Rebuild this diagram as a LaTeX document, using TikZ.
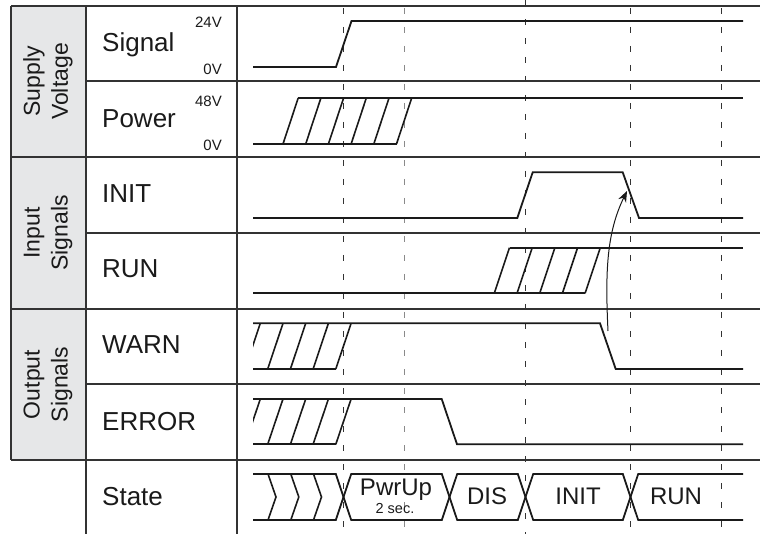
\documentclass[tikz,border=0pt]{standalone}
\usepackage{fontspec}
\setmainfont{Liberation Sans}
\usetikzlibrary{arrows.meta}
\definecolor{gridc}{HTML}{333333}
\definecolor{sigc}{HTML}{1A1A1A}
\definecolor{grayfill}{HTML}{E6E7E8}
\definecolor{dashgray}{HTML}{8A8A8A}
\begin{document}
\begin{tikzpicture}[x=1pt,y=-1pt,
  grid/.style={draw=gridc, line width=1.3pt},
  sig/.style={draw=sigc, line width=1.8pt, line join=miter},
  hatch/.style={draw=sigc, line width=1.6pt},
  vdash/.style={draw=gridc, line width=0.9pt, dash pattern=on 6pt off 13pt},
  vdashg/.style={draw=dashgray, line width=1.3pt, dash pattern=on 6pt off 13pt},
  lbl/.style={anchor=base west, font=\fontsize{26}{30}\selectfont, inner sep=0pt, text=sigc},
  grp/.style={rotate=90, align=center, font=\fontsize{23}{28}\selectfont, inner sep=0pt, text=sigc},
  volt/.style={anchor=base east, font=\fontsize{15}{17}\selectfont, inner sep=0pt, text=sigc},
  st/.style={anchor=base, font=\fontsize{24}{28}\selectfont, inner sep=0pt, text=sigc},
  stsmall/.style={anchor=base, font=\fontsize{14.5}{16}\selectfont, inner sep=0pt, text=sigc},
  arr/.style={draw=sigc, line width=1pt, -{Stealth[length=11pt,width=8.5pt]}}
]
\useasboundingbox (0,0) rectangle (760,534);

% gray group column
\fill[grayfill] (11,6) rectangle (86,460);

% dashed time markers
\draw[vdash]  (343.5,8) -- (343.5,534);
\draw[vdashg] (404.5,8) -- (404.5,534);
\draw[vdash]  (525.5,0) -- (525.5,534);
\draw[vdash]  (630.5,8) -- (630.5,534);
\draw[vdash]  (721.5,8) -- (721.5,534);

% table grid
\draw[grid] (11,6) -- (760,6);
\draw[grid] (86,81) -- (760,81);
\draw[grid] (11,157) -- (760,157);
\draw[grid] (86,233) -- (760,233);
\draw[grid] (11,309) -- (760,309);
\draw[grid] (86,384) -- (760,384);
\draw[grid] (11,460) -- (760,460);
\draw[grid] (11,6) -- (11,460);
\draw[grid] (86,6) -- (86,534);
\draw[grid] (237,6) -- (237,534);

% group labels
\node[grp] (gsupply) at (48,81.5) {Supply\\Voltage};
\node[grp] (ginput)  at (48,233) {Input\\Signals};
\node[grp] (goutput) at (48,384.5) {Output\\Signals};

% row labels
\node[lbl] (lsignal) at (102,52) {Signal};
\node[lbl] (lpower)  at (102,128) {Power};
\node[lbl] (linit)   at (102,203) {INIT};
\node[lbl] (lrun)    at (102,278) {RUN};
\node[lbl] (lwarn)   at (102,354) {WARN};
\node[lbl] (lerror)  at (102,430) {ERROR};
\node[lbl] (lstate)  at (102,505) {State};

% voltage labels
\node[volt] (v24) at (222,28) {24V};
\node[volt] (v0a) at (222,75) {0V};
\node[volt] (v48) at (222,107) {48V};
\node[volt] (v0b) at (222,151) {0V};

% Signal
\draw[sig] (253,67) -- (336,67) -- (351.5,21) -- (743,21);

% Power (hatched transition)
\draw[sig] (253,144) -- (396.5,144);
\draw[sig] (298.2,98) -- (743,98);
\foreach \b in {283,305.7,328.4,351.1,373.8,396.5}
  \draw[hatch] (\b,144) -- (\b+15.2,98);

% INIT
\draw[sig] (253,218) -- (517.3,218) -- (532.7,172.3) -- (622.7,172.3) -- (639,218) -- (743,218);

% RUN (hatched transition)
\draw[sig] (253,293.3) -- (585.1,293.3);
\draw[sig] (509.5,247.7) -- (743,247.7);
\foreach \b in {494.3,517,539.7,562.4,585.1}
  \draw[hatch] (\b,293.3) -- (\b+15.2,247.7);

% WARN
\draw[sig] (253,323.3) -- (600,323.3) -- (615.7,369) -- (743,369);
\draw[sig] (253,369) -- (335.8,369);
\begin{scope}
  \clip (253,300) rectangle (400,380);
  \foreach \b in {245,267.7,290.4,313.1,335.8}
    \draw[hatch] (\b,369) -- (\b+15.3,323.3);
\end{scope}

% ERROR
\draw[sig] (253,399) -- (441.7,399) -- (457,444.3) -- (743,444.3);
\draw[sig] (253,444.3) -- (335.8,444.3);
\begin{scope}
  \clip (253,380) rectangle (400,455);
  \foreach \b in {245,267.7,290.4,313.1,335.8}
    \draw[hatch] (\b,444.3) -- (\b+15.3,399);
\end{scope}

% State bus
\draw[sig] (253,474) -- (335.8,474) -- (343.5,497) -- (335.8,520) -- (253,520);
\foreach \c in {268,290.8,313.5}
  \draw[hatch] (\c,474) -- (\c+8,497) -- (\c,520);
\draw[sig] (351.2,474) -- (441.8,474) -- (449.5,497) -- (441.8,520) -- (351.2,520) -- (343.5,497) -- cycle;
\draw[sig] (457.2,474) -- (517.8,474) -- (525.5,497) -- (517.8,520) -- (457.2,520) -- (449.5,497) -- cycle;
\draw[sig] (533.2,474) -- (622.8,474) -- (630.5,497) -- (622.8,520) -- (533.2,520) -- (525.5,497) -- cycle;
\draw[sig] (743,474) -- (638.2,474) -- (630.5,497) -- (638.2,520) -- (743,520);

\node[st] (spwr)  at (396,495) {PwrUp};
\node[stsmall] (ssec) at (395,513) {2 sec.};
\node[st] (sdis)  at (487,504) {DIS};
\node[st] (sinit) at (578,504) {INIT};
\node[st] (srun)  at (676,504) {RUN};

% causal arrow WARN fall -> INIT fall
\coordinate (warnfall) at (608,331);
\coordinate (initfall) at (627,191);
\draw[arr] (warnfall) .. controls (605,270) and (607,232) .. (initfall);

\end{tikzpicture}
\end{document}
